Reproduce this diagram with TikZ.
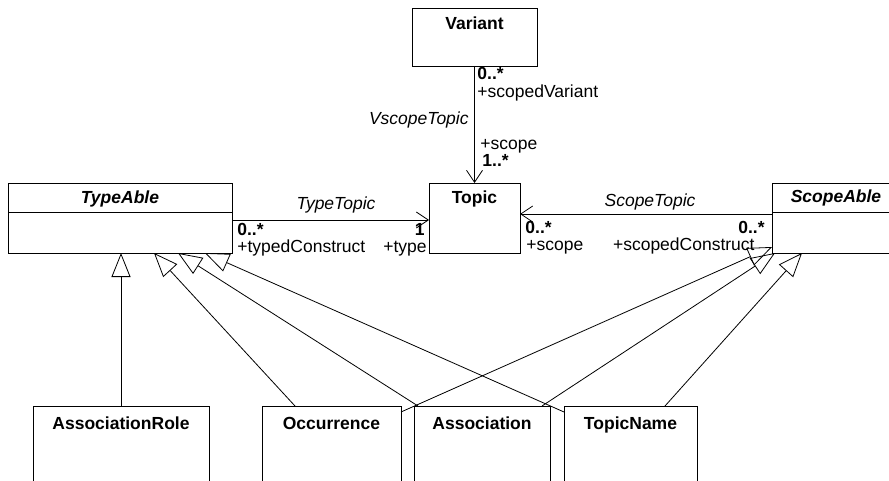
\documentclass[tikz,border=0pt]{standalone}
\usepackage{fontspec}
\setmainfont{Liberation Sans}
\usetikzlibrary{arrows.meta,calc}
\newcommand\dfs{\fontsize{17.5}{21}\selectfont}
\begin{document}
\begin{tikzpicture}[x=1pt,y=-1pt,line width=0.8pt,
  every node/.style={font=\dfs},
  cls/.style={draw,anchor=north west,inner sep=0pt,outer sep=0pt,line width=0.8pt},
  ttl/.style={font=\dfs\bfseries,anchor=base,inner sep=0pt},
  absttl/.style={font=\dfs\bfseries\itshape,anchor=base,inner sep=0pt},
  rolew/.style={anchor=base west,inner sep=0pt},
  rolee/.style={anchor=base east,inner sep=0pt},
  multw/.style={anchor=base west,inner sep=0pt,font=\dfs\bfseries},
  multe/.style={anchor=base east,inner sep=0pt,font=\dfs\bfseries},
  aname/.style={anchor=base,inner sep=0pt,font=\dfs\itshape},
  assoc/.style={-{Straight Barb[length=12pt,width=16pt,line width=0.8pt]}},
  gen/.style={-{Triangle[open,length=24pt,width=19pt,line width=0.8pt]}},
]
\clip (0,0) rectangle (889,481);
\fill[white] (0,0) rectangle (889,481);
% classes
\node[cls,minimum width=125pt,minimum height=58pt] (variant) at (412,8) {};
\node[cls,minimum width=91pt,minimum height=70pt] (topic) at (429,183) {};
\node[cls,minimum width=224pt,minimum height=70pt] (typeable) at (8,183) {};
\node[cls,minimum width=128pt,minimum height=70pt] (scopeable) at (772,183) {};
\node[cls,minimum width=176pt,minimum height=110pt] (assocrole) at (33,406) {};
\node[cls,minimum width=139pt,minimum height=110pt] (occ) at (262,406) {};
\node[cls,minimum width=136pt,minimum height=110pt] (assoc) at (414,406) {};
\node[cls,minimum width=133pt,minimum height=110pt] (tn) at (564,406) {};
% titles
\node[ttl] (tvariant) at ($(variant.north)+(0,22)$) {Variant};
\node[ttl] (ttopic) at ($(topic.north)+(0,21)$) {Topic};
\node[absttl] (ttypeable) at ($(typeable.north)+(0,21)$) {TypeAble};
\node[absttl] (tscopeable) at ($(scopeable.north)+(0,20)$) {ScopeAble};
\node[ttl] (tassocrole) at ($(assocrole.north)+(0,23)$) {AssociationRole};
\node[ttl] (tocc) at ($(occ.north)+(0,23)$) {Occurrence};
\node[ttl] (tassoc) at ($(assoc.north)+(0,23)$) {Association};
\node[ttl] (ttn) at ($(tn.north)+(0,23)$) {TopicName};
% compartments
\draw ($(typeable.north west)+(0,29)$) -- ($(typeable.north east)+(0,29)$);
\draw ($(scopeable.north west)+(0,29)$) -- ($(scopeable.north east)+(0,29)$);
% associations
\draw[assoc] (variant.south) -- (topic.north);
\draw[assoc] ($(typeable.north east)+(0,37)$) -- ($(topic.north west)+(0,37)$);
\draw[assoc] ($(scopeable.north west)+(0,31)$) -- ($(topic.north east)+(0,31)$);
% association labels
\node[multw] (m1) at (477,80) {0..*};
\node[rolew] (r1) at (477,98) {+scopedVariant};
\node[aname,anchor=base east] (a1) at (469,125) {VscopeTopic};
\node[rolew] (r2) at (480,150) {+scope};
\node[multw] (m2) at (482,167) {1..*};
\node[aname] (a2) at (336,210) {TypeTopic};
\node[multw] (m3) at (237,236) {0..*};
\node[rolew] (r3) at (237,253) {+typedConstruct};
\node[multe] (m4) at (425,236) {1};
\node[rolee] (r4) at (427,253) {+type};
\node[aname] (a3) at (650,207) {ScopeTopic};
\node[multw] (m5) at (525,234) {0..*};
\node[rolew] (r5) at (526,251) {+scope};
\node[multe] (m6) at (765,234) {0..*};
\node[rolee] (r6) at (755,251) {+scopedConstruct};
% generalizations
\draw[gen] ($(assocrole.north west)+(88,0)$) -- ($(typeable.south west)+(113,0)$);
\draw[gen] ($(occ.north west)+(33,0)$) -- ($(typeable.south west)+(146,0)$);
\draw[gen] ($(assoc.north west)+(4,0)$) -- ($(typeable.south west)+(170,0)$);
\draw[gen] ($(tn.north west)+(0,6)$) -- ($(typeable.south west)+(197,0)$);
\draw[gen] ($(occ.north east)+(0,6)$) -- ($(scopeable.south west)+(0,-6)$);
\draw[gen] ($(assoc.north east)+(-8,0)$) -- ($(scopeable.south west)+(3,0)$);
\draw[gen] ($(tn.north west)+(101,0)$) -- ($(scopeable.south west)+(30,0)$);
\end{tikzpicture}
\end{document}
